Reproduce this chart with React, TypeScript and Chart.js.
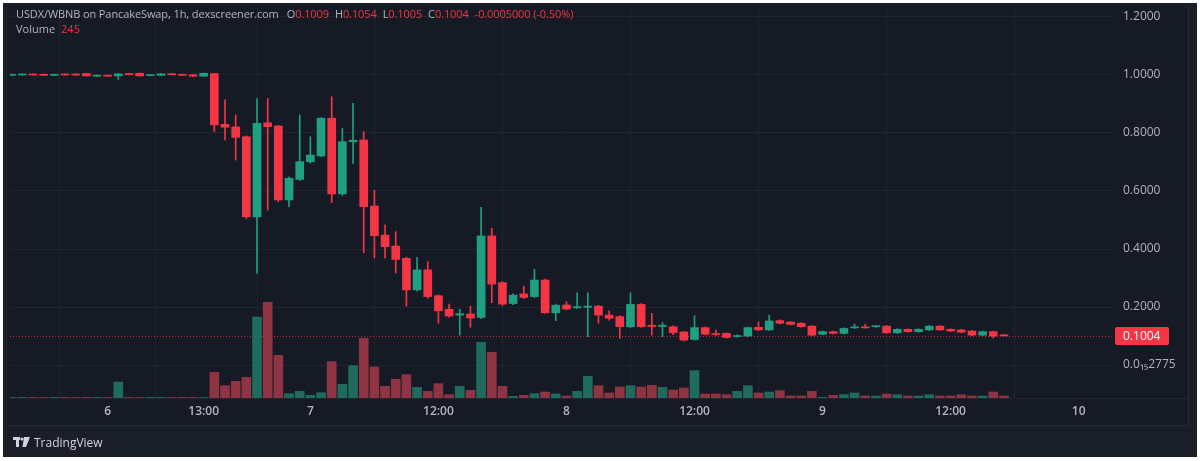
import React, { useEffect, useRef } from "react";
import { Chart, registerables } from "chart.js";

Chart.register(...registerables);

// ---- Data (hourly candles, index = bar slot) ----
const OPEN = [
  0.999, 1.0, 1.003, 1.002, 0.999, 1.003, 1.003, 1.005, 0.996, 0.999,
  0.997, 1.005, 1.006, 0.998, 0.999, 1.004, 1.002, 1.001, 0.996, 1.005,
  0.83, 0.821, 0.787, 0.511, 0.835, 0.824, 0.569, 0.64, 0.701, 0.721,
  0.851, 0.59, 0.77, 0.776, 0.548, 0.448, 0.41, 0.368, 0.259, 0.328,
  0.239, 0.192, 0.172, 0.176, 0.164, 0.445, 0.284, 0.212, 0.245, 0.236,
  0.293, 0.18, 0.207, 0.197, 0.199, 0.203, 0.172, 0.167, 0.132, 0.209,
  0.137, 0.133, 0.132, 0.114, 0.088, 0.129, 0.108, 0.109, 0.098, 0.1,
  0.13, 0.121, 0.153, 0.148, 0.144, 0.134, 0.106, 0.115, 0.109, 0.128,
  0.131, 0.132, 0.134, 0.111, 0.123, 0.115, 0.121, 0.134, 0.123, 0.121,
  0.117, 0.103, 0.115, 0.1009,
];
const HIGH = [
  1.003, 1.004, 1.004, 1.003, 1.003, 1.004, 1.004, 1.006, 1.0, 1.0,
  1.005, 1.006, 1.007, 1.001, 1.005, 1.005, 1.003, 1.002, 1.007, 1.006,
  0.914, 0.862, 0.79, 0.919, 0.919, 0.826, 0.648, 0.862, 0.787, 0.853,
  0.925, 0.816, 0.902, 0.805, 0.603, 0.483, 0.46, 0.372, 0.371, 0.356,
  0.242, 0.21, 0.192, 0.203, 0.544, 0.471, 0.288, 0.245, 0.272, 0.33,
  0.296, 0.21, 0.218, 0.249, 0.249, 0.206, 0.187, 0.17, 0.249, 0.212,
  0.178, 0.146, 0.135, 0.116, 0.17, 0.131, 0.12, 0.111, 0.104, 0.131,
  0.149, 0.172, 0.156, 0.15, 0.146, 0.136, 0.117, 0.117, 0.128, 0.141,
  0.141, 0.136, 0.136, 0.125, 0.125, 0.125, 0.136, 0.136, 0.125, 0.123,
  0.119, 0.117, 0.117, 0.1054,
];
const LOW = [
  0.998, 0.999, 0.999, 0.998, 0.998, 0.999, 0.999, 0.996, 0.995, 0.995,
  0.985, 1.0, 0.996, 0.997, 0.998, 1.0, 0.998, 0.994, 0.995, 0.805,
  0.776, 0.707, 0.505, 0.316, 0.534, 0.563, 0.546, 0.636, 0.696, 0.718,
  0.56, 0.585, 0.695, 0.387, 0.369, 0.369, 0.317, 0.203, 0.255, 0.23,
  0.144, 0.165, 0.103, 0.13, 0.16, 0.215, 0.205, 0.208, 0.229, 0.232,
  0.178, 0.153, 0.19, 0.195, 0.098, 0.144, 0.155, 0.092, 0.128, 0.13,
  0.103, 0.098, 0.105, 0.083, 0.086, 0.104, 0.102, 0.093, 0.096, 0.098,
  0.119, 0.119, 0.142, 0.138, 0.13, 0.101, 0.104, 0.107, 0.107, 0.126,
  0.127, 0.13, 0.109, 0.109, 0.113, 0.113, 0.119, 0.119, 0.115, 0.111,
  0.101, 0.101, 0.093, 0.1005,
];
const CLOSE = [
  1.002, 1.003, 1.0, 0.999, 1.002, 1.0, 1.0, 0.997, 0.999, 0.996,
  1.004, 1.001, 0.997, 1.0, 1.004, 1.001, 0.999, 0.996, 1.006, 0.828,
  0.82, 0.785, 0.511, 0.833, 0.822, 0.569, 0.644, 0.701, 0.724, 0.851,
  0.59, 0.77, 0.775, 0.546, 0.446, 0.408, 0.364, 0.259, 0.328, 0.236,
  0.187, 0.169, 0.177, 0.162, 0.445, 0.279, 0.21, 0.241, 0.233, 0.293,
  0.18, 0.206, 0.193, 0.201, 0.203, 0.172, 0.161, 0.132, 0.209, 0.132,
  0.133, 0.137, 0.111, 0.086, 0.129, 0.106, 0.105, 0.095, 0.101, 0.129,
  0.121, 0.152, 0.144, 0.14, 0.132, 0.103, 0.115, 0.109, 0.126, 0.131,
  0.128, 0.135, 0.111, 0.123, 0.115, 0.123, 0.134, 0.121, 0.117, 0.113,
  0.103, 0.115, 0.1, 0.1004,
];
const VOLUME = [
  60, 60, 60, 60, 60, 60, 60, 60, 60, 60,
  1920, 60, 60, 60, 60, 60, 60, 60, 60, 3080,
  1480, 2000, 2480, 9720, 11480, 5120, 520, 800, 320, 640,
  4360, 1640, 3880, 7160, 3720, 1400, 2240, 2800, 1280, 800,
  1720, 400, 1400, 920, 6680, 5480, 1400, 200, 320, 520,
  720, 480, 240, 800, 2600, 1480, 600, 1320, 1480, 1320,
  1520, 1280, 960, 1200, 3280, 480, 480, 400, 800, 1480,
  600, 720, 880, 240, 240, 800, 80, 320, 400, 600,
  240, 240, 480, 400, 240, 240, 400, 240, 240, 400,
  240, 240, 720, 245,
];
const TIME_TICK_INDEX = [9, 18, 28, 40, 52, 64, 76, 88, 100];
const TIME_TICK_LABELS = ["6", "13:00", "7", "12:00", "8", "12:00", "9", "12:00", "10"];
const PRICE_TICKS = [0, 0.2, 0.4, 0.6, 0.8, 1.0, 1.2];
const PRICE_TICK_LABELS = ["0.0\u2081\u20852775", "0.2000", "0.4000", "0.6000", "0.8000", "1.0000", "1.2000"];
const LAST_PRICE = 0.1004;

const UP = "#1fa083";
const DOWN = "#f23645";
const UP_VOL = "#1f6b5d";
const DOWN_VOL = "#8e3442";
const FONT = "'Open Sans', 'DejaVu Sans', sans-serif";

const X_MIN = -0.15;
const X_MAX = 103.22;
const Y_MIN = -0.11379;
const Y_MAX = 1.23103;
const VOL_MAX = 46800;

const priceLinePlugin = {
  id: "priceLine",
  beforeDatasetsDraw(chart: any) {
    const { ctx, chartArea } = chart;
    const y = Math.round(chart.scales.y.getPixelForValue(LAST_PRICE)) + 0.5;
    ctx.save();
    ctx.strokeStyle = "rgba(242,54,69,0.75)";
    ctx.lineWidth = 1;
    ctx.setLineDash([1, 2]);
    ctx.beginPath();
    ctx.moveTo(chartArea.left, y);
    ctx.lineTo(chartArea.right, y);
    ctx.stroke();
    ctx.restore();
  },
  afterDraw(chart: any) {
    const { ctx, chartArea } = chart;
    const y = chart.scales.y.getPixelForValue(LAST_PRICE);
    ctx.save();
    ctx.fillStyle = DOWN;
    const x0 = chartArea.right + 2;
    ctx.beginPath();
    ctx.roundRect ? ctx.roundRect(x0, y - 9, 54, 18, 2) : ctx.rect(x0, y - 9, 54, 18);
    ctx.fill();
    ctx.fillStyle = "#ffffff";
    ctx.font = `12px ${FONT}`;
    ctx.textBaseline = "middle";
    ctx.textAlign = "left";
    ctx.fillText(LAST_PRICE.toFixed(4), chartArea.right + 10, y + 0.5);
    ctx.restore();
  },
};

export default function App() {
  const ref = useRef<HTMLCanvasElement | null>(null);

  useEffect(() => {
    document.body.style.margin = "0";
    document.body.style.background = "#ffffff";
    const canvas = ref.current;
    if (!canvas) return;
    const colors = OPEN.map((o, i) => (CLOSE[i] >= o ? UP : DOWN));
    const volColors = OPEN.map((o, i) => (CLOSE[i] >= o ? UP_VOL : DOWN_VOL));
    const bodies = OPEN.map((o, i) => ({ x: i, y: [o, CLOSE[i]] }));
    const wicks = OPEN.map((o, i) => ({
      x: i,
      y: [Math.min(LOW[i], o, CLOSE[i]), Math.max(HIGH[i], o, CLOSE[i])],
    }));
    const vols = VOLUME.map((v, i) => ({ x: i, y: v }));

    const chart = new Chart(canvas, {
      type: "bar",
      data: {
        datasets: [
          {
            label: "body",
            data: bodies as any,
            backgroundColor: colors,
            barThickness: 8,
            minBarLength: 1,
            grouped: false,
            order: 1,
          } as any,
          {
            label: "wick",
            data: wicks as any,
            backgroundColor: colors,
            barThickness: 1,
            grouped: false,
            order: 2,
          } as any,
          {
            label: "volume",
            data: vols as any,
            yAxisID: "yv",
            backgroundColor: volColors,
            barThickness: 9,
            grouped: false,
            order: 3,
          } as any,
        ],
      },
      options: {
        animation: false,
        responsive: false,
        maintainAspectRatio: false,
        layout: { padding: { left: 10, top: 8, right: 0, bottom: 0 } },
        plugins: { legend: { display: false }, tooltip: { enabled: false } },
        scales: {
          x: {
            type: "linear",
            min: X_MIN,
            max: X_MAX,
            offset: false,
            position: "bottom",
            border: { display: false },
            grid: { color: "#20242f", drawTicks: false, lineWidth: 1 },
            afterBuildTicks: (s: any) => {
              s.ticks = TIME_TICK_INDEX.map((v) => ({ value: v }));
            },
            afterFit: (s: any) => {
              s.height = 63;
              s.paddingLeft = 0;
              s.paddingRight = 0;
            },
            ticks: {
              autoSkip: false,
              maxRotation: 0,
              padding: 6,
              color: "#b2b5be",
              font: { family: FONT, size: 12, weight: "600" },
              callback: (v: any) => {
                const i = TIME_TICK_INDEX.indexOf(Number(v));
                return i >= 0 ? TIME_TICK_LABELS[i] : "";
              },
            },
          } as any,
          y: {
            type: "linear",
            position: "right",
            min: Y_MIN,
            max: Y_MAX,
            border: { display: false },
            grid: { color: "#20242f", drawTicks: false },
            afterBuildTicks: (s: any) => {
              s.ticks = PRICE_TICKS.map((v) => ({ value: v }));
            },
            afterFit: (s: any) => {
              s.width = 87;
              s.paddingTop = 0;
              s.paddingBottom = 0;
            },
            ticks: {
              padding: 10,
              color: "#b2b5be",
              font: { family: FONT, size: 12 },
              callback: (v: any) => {
                const i = PRICE_TICKS.findIndex((t) => Math.abs(t - Number(v)) < 1e-9);
                return i >= 0 ? PRICE_TICK_LABELS[i] : "";
              },
            },
          } as any,
          yv: {
            type: "linear",
            display: false,
            position: "right",
            min: 0,
            max: VOL_MAX,
          } as any,
        },
      },
      plugins: [priceLinePlugin],
    });
    return () => chart.destroy();
  }, []);

  const gray = "#b2b5be";
  const red = "#f23645";
  return (
    <div style={{ position: "relative", width: 1200, height: 461, background: "#fff", overflow: "hidden", fontFamily: FONT }}>
      <div style={{ position: "absolute", left: 3, top: 3, width: 1194, height: 454, background: "#1a1e29" }} />
      <div style={{ position: "absolute", left: 8, top: 6, width: 1180, height: 419, background: "#161a25", borderRight: "1px solid #262a35", borderBottom: "1px solid #262a35" }} />
      <div style={{ position: "absolute", left: 8, top: 398, width: 1180, height: 1, background: "#222631" }} />
      <canvas ref={ref} width={1200} height={461} style={{ position: "absolute", left: 0, top: 0, width: 1200, height: 461 }} />
      <div style={{ position: "absolute", left: 16, top: 7, fontSize: 11, lineHeight: "14px", color: gray, whiteSpace: "nowrap", letterSpacing: "-0.1px" }}>
        <span>USDX/WBNB on PancakeSwap, 1h, dexscreener.com</span>
        <span style={{ marginLeft: 8 }}>O</span><span style={{ color: red }}>0.1009</span>
        <span style={{ marginLeft: 6 }}>H</span><span style={{ color: red }}>0.1054</span>
        <span style={{ marginLeft: 6 }}>L</span><span style={{ color: red }}>0.1005</span>
        <span style={{ marginLeft: 6 }}>C</span><span style={{ color: red }}>0.1004</span>
        <span style={{ marginLeft: 6, color: red }}>-0.0005000 (-0.50%)</span>
      </div>
      <div style={{ position: "absolute", left: 16, top: 22, fontSize: 11, lineHeight: "14px", color: gray, whiteSpace: "nowrap" }}>
        <span>Volume</span><span style={{ color: red, marginLeft: 6 }}>245</span>
      </div>
      <div style={{ position: "absolute", left: 13, top: 434, height: 16, display: "flex", alignItems: "center", color: "#d1d4dc", fontSize: 12, whiteSpace: "nowrap" }}>
        <svg width="17" height="10" viewBox="0 0 17 10" style={{ marginRight: 4 }}>
          <rect x="0" y="0" width="7" height="3" fill="#d1d4dc" />
          <rect x="3" y="0" width="3" height="10" fill="#d1d4dc" />
          <circle cx="9" cy="2" r="1.6" fill="#d1d4dc" />
          <polygon points="11,0 17,0 13,10 9.5,10" fill="#d1d4dc" />
        </svg>
        <span>TradingView</span>
      </div>
    </div>
  );
}
